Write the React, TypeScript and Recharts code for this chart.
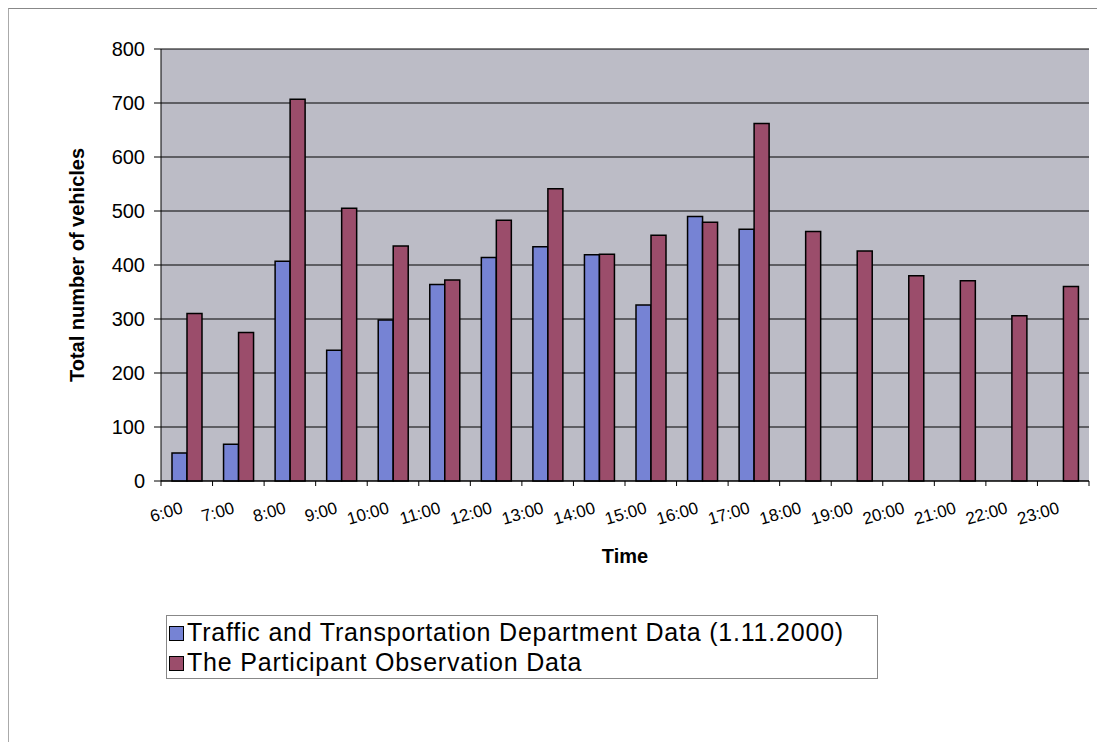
import { BarChart, Bar, XAxis, YAxis, CartesianGrid } from 'recharts'

const hours = ['6:00', '7:00', '8:00', '9:00', '10:00', '11:00', '12:00', '13:00', '14:00',
  '15:00', '16:00', '17:00', '18:00', '19:00', '20:00', '21:00', '22:00', '23:00']
const departmentData = [52, 68, 407, 242, 298, 364, 414, 434, 419, 326, 490, 466, null, null, null, null, null, null]
const observationData = [310, 275, 707, 505, 435, 372, 483, 541, 420, 455, 479, 662, 462, 426, 380, 371, 306, 360]
const yTicks = [0, 100, 200, 300, 400, 500, 600, 700, 800]

const seriesNames = ['Traffic and Transportation Department Data (1.11.2000)', 'The Participant Observation Data']
const BLUE = '#7683d4'
const MAROON = '#9b4d6b'

const data = hours.map((h, i) => ({ hour: h, dept: departmentData[i], obs: observationData[i] }))

const W = 1089
const H = 734
const M = { top: 40, right: 9, left: 92, bottom: 232 }
const band = (W - 152 - M.right) / hours.length

function HourTick({ x, y, payload, index }: any) {
  const tx = x - 3
  const ty = y + 24
  return (
    <g>
      <line x1={x - band / 2} x2={x - band / 2} y1={y - 8} y2={y - 3} stroke="#000" />
      {index === hours.length - 1 && (
        <line x1={x + band / 2} x2={x + band / 2} y1={y - 8} y2={y - 3} stroke="#000" />
      )}
      <text
        x={tx} y={ty} textAnchor="end" fontSize={17}
        fontFamily="'Liberation Sans Narrow', 'Liberation Sans', Arial" fill="#000"
        transform={`rotate(-16, ${tx}, ${ty})`}
      >
        {payload.value}
      </text>
    </g>
  )
}

function Swatch({ color }: { color: string }) {
  return <span style={{ display: 'inline-block', width: 13, height: 13, background: color, border: '1.5px solid #000', marginRight: 3 }} />
}

export default function App() {
  return (
    <div style={{ position: 'relative', width: W, height: H, fontFamily: "'Liberation Sans', Arial, sans-serif", borderTop: '1px solid #888', borderLeft: '1px solid #aaa', boxSizing: 'border-box' }}>
      <BarChart width={W} height={H} data={data} margin={M} barSize={15} barGap={0}>
        <CartesianGrid vertical={false} stroke="#000" fill="#bcbcc6" />
        <XAxis
          dataKey="hour" axisLine={{ stroke: '#000' }} tickLine={false}
          tick={<HourTick />} interval={0}
          label={{ value: 'Time', position: 'bottom', offset: 38, fontSize: 20, fontWeight: 700, fill: '#000' }}
        />
        <YAxis
          width={60}
          domain={[0, 800]} ticks={yTicks} interval={0}
          axisLine={{ stroke: '#000' }} tickLine={{ stroke: '#000' }} tickSize={7}
          tick={{ fontSize: 20, fill: '#000', fontFamily: "'Liberation Sans', Arial", dx: -7 }}
          label={{ value: 'Total number of vehicles', angle: -90, position: 'insideLeft', dx: -29, dy: 0, fontSize: 20, fontWeight: 700, fill: '#000', style: { textAnchor: 'middle' } }}
        />
        <Bar dataKey="dept" name={seriesNames[0]} fill={BLUE} stroke="#000" strokeWidth={1.5} isAnimationActive={false} />
        <Bar dataKey="obs" name={seriesNames[1]} fill={MAROON} stroke="#000" strokeWidth={1.5} isAnimationActive={false} />
      </BarChart>
      <div style={{ position: 'absolute', left: 157, top: 606, width: 712, padding: '1px 2px', border: '1px solid #888', fontSize: 25, lineHeight: '30px', letterSpacing: '0.8px', color: '#000', background: '#fff', boxSizing: 'border-box', whiteSpace: 'nowrap' }}>
        <div><Swatch color={BLUE} />{seriesNames[0]}</div>
        <div><Swatch color={MAROON} />{seriesNames[1]}</div>
      </div>
    </div>
  )
}
